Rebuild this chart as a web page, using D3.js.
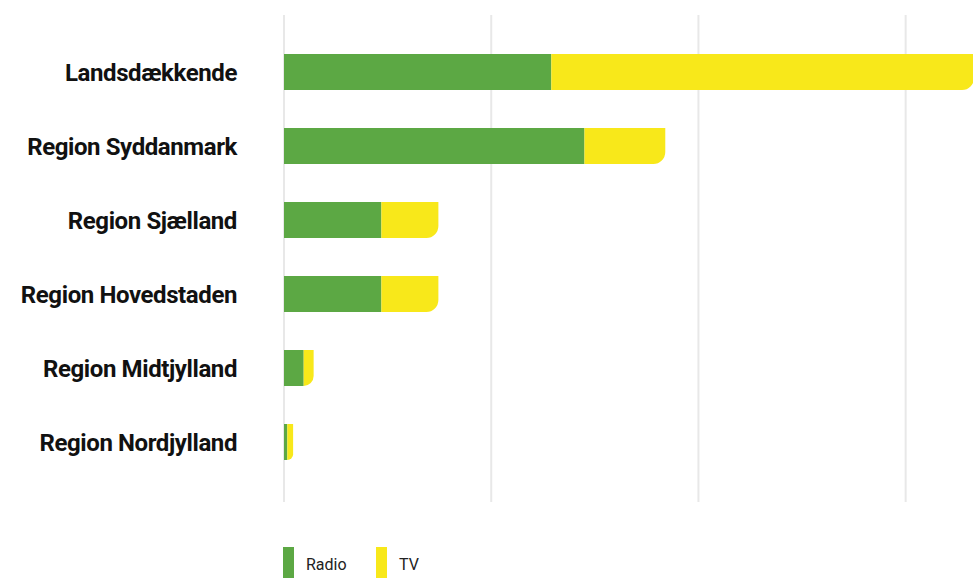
<!DOCTYPE html>
<html><head><meta charset="utf-8">
<script src="https://cdn.jsdelivr.net/npm/d3@7"></script>
<style>body{margin:0;background:#fff}svg{display:block}</style>
</head><body><svg id="c" width="973" height="578"></svg>
<script>
const categories = ["Landsdækkende","Region Syddanmark","Region Sjælland","Region Hovedstaden","Region Midtjylland","Region Nordjylland"];
const radio = [129, 145, 47, 47, 9.5, 1.6];
const tv = [204, 39, 27.5, 27.5, 4.8, 2.8];
const seriesNames = ["Radio","TV"];
const gridTicks = [0, 100, 200, 300];

const colors = {Radio:"#5ca844", TV:"#f8e81a"};
const svg = d3.select("#c");
const x = d3.scaleLinear().domain([0, 332.5]).range([284, 973]);
const y = d3.scaleBand().domain(categories).range([35, 479]).paddingInner(0.514).paddingOuter(0.257);

svg.append("g").selectAll("line").data(gridTicks).join("line")
  .attr("x1", d => x(d)).attr("x2", d => x(d))
  .attr("y1", 15).attr("y2", 502)
  .attr("stroke", "#e8e8e8").attr("stroke-width", 2);

const rows = categories.map((c,i) => ({c, Radio: radio[i], TV: tv[i]}));
const stack = d3.stack().keys(seriesNames)(rows);

function seg(x0, x1, y0, h, r) {
  r = Math.min(r, x1 - x0, h);
  if (r <= 0) return `M${x0},${y0}H${x1}V${y0+h}H${x0}Z`;
  return `M${x0},${y0}H${x1}V${y0+h-r}A${r},${r} 0 0 1 ${x1-r},${y0+h}H${x0}Z`;
}

stack.forEach((s, si) => {
  svg.append("g").selectAll("path").data(s).join("path")
    .attr("fill", colors[s.key])
    .attr("d", d => seg(x(d[0]), x(d[1]), y(d.data.c), y.bandwidth(), si === stack.length - 1 ? 12 : 0));
});

svg.append("g").selectAll("text").data(categories).join("text")
  .attr("x", 237).attr("y", d => y(d) + y.bandwidth()/2)
  .attr("dy", "0.36em").attr("text-anchor", "end")
  .attr("font-family", "Roboto, sans-serif").attr("font-weight", 700)
  .attr("font-size", 24).attr("letter-spacing", -0.4).attr("fill", "#111")
  .text(d => d);

const lg = svg.append("g").selectAll("g").data(seriesNames).join("g")
  .attr("transform", (d,i) => `translate(${283 + i*93},547)`);
lg.append("rect").attr("width", 11).attr("height", 34).attr("fill", d => colors[d]);
lg.append("text").attr("x", 23).attr("y", 23)
  .attr("font-family", "Roboto, sans-serif").attr("font-size", 16).attr("fill", "#222")
  .text(d => d);
</script></body></html>
